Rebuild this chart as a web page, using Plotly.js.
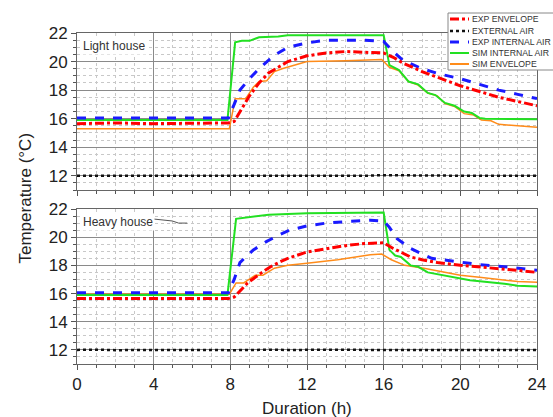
<!DOCTYPE html>
<html><head><meta charset="utf-8">
<script src="https://cdn.plot.ly/plotly-3.0.1.min.js"></script>
<style>html,body{margin:0;padding:0;background:#fff}#chart{width:553px;height:417px}</style>
</head><body><div id="chart"></div>
<script>
// ---------- Light house ----------
const expEnvL_t = [0,2,4,6,7.9,8.2,8.5,9,9.5,10,10.5,11,12,13,14,15,16,16.5,17,18,19,20,21,22,23,24];
const expEnvL_v = [15.65,15.7,15.65,15.7,15.7,15.8,16.5,17.6,18.5,19.2,19.6,20.0,20.4,20.6,20.7,20.65,20.6,20.3,19.9,19.3,18.8,18.3,17.9,17.5,17.2,16.9];
const extL_t = [0,1,2,3,4,5,6,7,8,9,10,11,12,13,14,15,16,17,18,19,20,21,22,23,24];
const extL_v = [12.0,12.0,12.0,12.0,12.0,12.0,12.0,12.0,11.98,12.02,12.0,12.03,12.0,11.98,12.02,12.0,12.04,12.02,12.0,11.98,12.0,12.0,12.0,12.0,12.0];
const expAirL_t = [0,7.9,8.2,8.5,9,9.5,10,10.5,11,12,13,14,15,16,16.5,17,18,19,20,21,22,23,24];
const expAirL_v = [16.05,16.05,17.0,18.0,18.8,19.5,20.1,20.6,21.0,21.3,21.5,21.5,21.5,21.4,20.7,20.1,19.5,19.1,18.8,18.4,18.0,17.7,17.4];
const simAirL_t = [0,7.85,8.25,8.6,9.0,9.5,10.5,11,16.0,16.3,16.8,17.3,17.8,18.3,18.7,19.2,19.7,20.2,20.6,21.0,21.3,24];
const simAirL_v = [15.9,15.9,21.35,21.45,21.45,21.7,21.75,21.85,21.85,19.75,19.4,18.6,18.4,17.8,17.65,17.1,16.9,16.5,16.4,16.05,16.0,15.95];
const simEnvL_t = [0,7.95,8.25,8.8,9.2,9.5,9.9,10.3,10.7,11.3,12,14,15.9,16.3,16.8,17.3,17.8,18.3,18.8,19.2,19.7,20.2,20.7,21.1,21.6,22.0,23,24];
const simEnvL_v = [15.3,15.3,17.4,17.4,18.2,18.6,18.65,19.3,19.5,19.75,20.0,20.05,20.15,19.6,19.35,18.6,18.35,17.8,17.6,17.05,16.85,16.35,16.25,15.9,15.85,15.6,15.5,15.4];

// ---------- Heavy house ----------
const expEnvH_t = [0,4,7.9,8.2,8.5,8.9,9.6,10.1,10.6,11,12,13,14,15,16,16.5,17,17.4,18,18.8,20,21,22.3,23,24];
const expEnvH_v = [15.65,15.65,15.65,15.75,16.2,16.75,17.45,17.9,18.25,18.5,18.95,19.2,19.4,19.55,19.6,19.2,18.85,18.6,18.4,18.2,18.0,17.9,17.75,17.65,17.5];
const extH_t = [0,1,2,3,4,5,6,7,8,9,10,11,12,13,14,15,16,17,18,19,20,21,22,23,24];
const extH_v = [12.0,12.02,11.98,12.01,12.0,11.99,12.02,12.0,11.98,12.02,12.01,12.0,12.02,11.99,12.01,12.0,12.02,12.0,11.99,12.0,12.01,12.0,12.0,12.0,12.0];
const expAirH_t = [0,7.9,8.2,8.5,9.2,9.9,10.6,11.1,12,13,14,15.3,16,16.3,16.7,17.4,18.5,19,20,21,22.3,23,24];
const expAirH_v = [16.05,16.05,17.0,18.2,19.1,19.7,20.2,20.5,20.8,21.0,21.1,21.2,21.15,20.7,19.9,19.2,18.5,18.4,18.2,18.05,17.9,17.8,17.65];
const simAirH_t = [0,7.85,8.3,8.9,9.5,10,11,12,16.0,16.3,16.6,16.9,17.4,17.8,18.3,19.3,20.5,22.3,23,24];
const simAirH_v = [15.9,15.9,21.3,21.4,21.55,21.6,21.65,21.7,21.75,19.1,18.7,18.6,18.0,17.9,17.5,17.25,16.95,16.7,16.55,16.5];
const simEnvH_t = [0,7.95,8.3,8.7,9.3,9.7,10.3,11,12,13.6,15.3,15.9,16.4,17.1,18.1,19,20,21,22.3,23,24];
const simEnvH_v = [15.95,15.95,16.75,16.75,17.3,17.3,17.8,18.0,18.15,18.4,18.75,18.8,18.4,18.0,17.8,17.55,17.3,17.15,16.95,16.85,16.8];

const seriesNames = ['EXP ENVELOPE','EXTERNAL AIR','EXP INTERNAL AIR','SIM INTERNAL AIR','SIM ENVELOPE'];
const panelLabels = ['Light house','Heavy house'];
const xTitle = 'Duration (h)';
const yTitle = 'Temperature (°C)';

const styles = [
  {color:'#ff0000', width:3, dash:'dashdot'},
  {color:'#111111', width:2.5, dash:'dot'},
  {color:'#1a1aff', width:3, dash:'dash'},
  {color:'#22e022', width:2, dash:'solid'},
  {color:'#ff8c1a', width:1.5, dash:'solid'}
];

function tr(x, y, i, xa, ya){
  return {x:x, y:y, type:'scatter', mode:'lines', name:seriesNames[i], xaxis:xa, yaxis:ya,
          line:Object.assign({}, styles[i]), showlegend:false, hoverinfo:'skip'};
}
const data = [
  tr(extL_t, extL_v, 1, 'x2','y2'),
  tr(simEnvL_t, simEnvL_v, 4, 'x2','y2'),
  tr(simAirL_t, simAirL_v, 3, 'x2','y2'),
  tr(expAirL_t, expAirL_v, 2, 'x2','y2'),
  tr(expEnvL_t, expEnvL_v, 0, 'x2','y2'),
  tr(extH_t, extH_v, 1, 'x','y'),
  tr(simEnvH_t, simEnvH_v, 4, 'x','y'),
  tr(simAirH_t, simAirH_v, 3, 'x','y'),
  tr(expAirH_t, expAirH_v, 2, 'x','y'),
  tr(expEnvH_t, expEnvH_v, 0, 'x','y')
];

const FONT = 'Liberation Sans, Arial, sans-serif';
const minorX = {dtick:1, ticks:'outside', ticklen:3, tickcolor:'#555', showgrid:true, gridcolor:'#c8c8c8', griddash:'dot', gridwidth:1};
const minorY = {dtick:0.5, ticks:'outside', ticklen:3, tickcolor:'#555', showgrid:true, gridcolor:'#c8c8c8', griddash:'dot', gridwidth:1};
function xax(extra){ return Object.assign({range:[0,24], dtick:4, tick0:0, ticks:'outside', ticklen:5, tickcolor:'#555',
  showgrid:true, gridcolor:'#8a8a8a', gridwidth:1, zeroline:false, showline:true, mirror:true, linecolor:'#666', linewidth:1,
  tickfont:{family:FONT, size:17, color:'#222'}, minor:minorX}, extra); }
function yax(extra){ return Object.assign({range:[11,22], dtick:2, tick0:0, ticks:'outside', ticklen:5, tickcolor:'#555',
  showgrid:true, gridcolor:'#8a8a8a', gridwidth:1, zeroline:false, showline:true, mirror:true, linecolor:'#666', linewidth:1,
  tickfont:{family:FONT, size:17, color:'#222'}, minor:minorY}, extra); }

// legend geometry (paper coords)
const L = 77, W = 460, B = 364, H = 331;
const px = v => (v - L) / W;
const py = v => (B - v) / H;
const rows = [19, 31, 42, 53, 64];

const shapes = [
  {type:'path', xref:'x', yref:'y', path:'M 3.92,21.3 L 4.97,21.15 L 5.3,21.0 L 5.75,21.0', line:{color:'#555', width:1}},
  {type:'rect', xref:'paper', yref:'paper', x0:px(448), x1:px(565), y0:py(70), y1:py(13), fillcolor:'#fff', line:{color:'#888', width:1}, layer:'above'}
];
const annotations = [
  {text:panelLabels[0], xref:'x2 domain', yref:'y2 domain', x:0.008, y:0.975, xanchor:'left', yanchor:'top', showarrow:false, font:{family:FONT, size:12, color:'#333'}, bgcolor:'#fff'},
  {text:panelLabels[1], xref:'x domain', yref:'y domain', x:0.008, y:0.975, xanchor:'left', yanchor:'top', showarrow:false, font:{family:FONT, size:12, color:'#333'}, bgcolor:'#fff'},
  {text:yTitle, xref:'paper', yref:'paper', x:px(25), y:0.5, textangle:-90, showarrow:false, xanchor:'center', yanchor:'middle', font:{family:FONT, size:17, color:'#222'}},
  {text:xTitle, xref:'paper', yref:'paper', x:0.5, y:py(408), showarrow:false, xanchor:'center', yanchor:'middle', font:{family:FONT, size:17, color:'#222'}}
];
seriesNames.forEach((n, i) => {
  shapes.push({type:'line', xref:'paper', yref:'paper', x0:px(450), x1:px(469), y0:py(rows[i]), y1:py(rows[i]),
    line:Object.assign({}, styles[i], {width: Math.max(styles[i].width, 2)}), layer:'above'});
  annotations.push({text:n, xref:'paper', yref:'paper', x:px(470), y:py(rows[i]), xanchor:'left', yanchor:'middle',
    showarrow:false, font:{family:FONT, size:8.7, color:'#333'}});
});

const layout = {
  width:553, height:417,
  margin:{l:77, r:16, t:33, b:53},
  paper_bgcolor:'#fff', plot_bgcolor:'#fff',
  showlegend:false,
  xaxis: xax({anchor:'y', domain:[0,1]}),
  yaxis: yax({anchor:'x', domain:[0, (B-209)/H]}),
  xaxis2: xax({anchor:'y2', domain:[0,1], showticklabels:false}),
  yaxis2: yax({anchor:'x2', domain:[(B-190)/H, 1]}),
  shapes: shapes,
  annotations: annotations
};
Plotly.newPlot('chart', data, layout, {staticPlot:true, displayModeBar:false});
</script></body></html>
